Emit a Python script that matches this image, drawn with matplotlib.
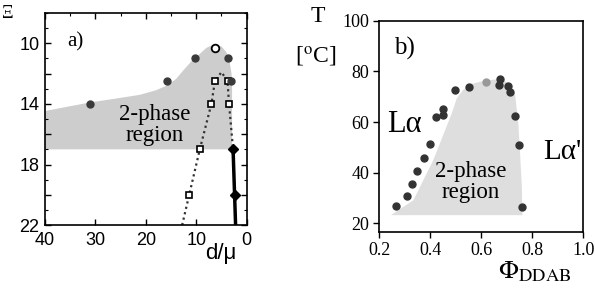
import matplotlib
matplotlib.use("Agg")
import matplotlib.pyplot as plt
import numpy as np

# ---- panel a) ----
circ_d = [31.0, 15.9, 10.3, 3.7, 3.2]
circ_xi = [14.0, 12.5, 11.0, 11.0, 12.5]
open_circ_d = [6.3]
open_circ_xi = [10.3]
sq_d = [11.4, 9.3, 7.0, 6.3, 3.8, 3.5]
sq_xi = [20.0, 17.0, 14.0, 12.5, 12.5, 14.0]
dot_d = [12.8, 11.4, 9.3, 7.0, 6.3, 5.0, 3.8, 3.5, 2.7]
dot_xi = [22.0, 20.0, 17.0, 14.0, 12.5, 11.9, 12.5, 14.0, 17.0]
dia_d = [2.7, 2.4]
dia_xi = [17.0, 20.0]
solid_d = [2.7, 2.4, 2.2]
solid_xi = [17.0, 20.0, 22.0]
# two-phase region outline (top edge, then down the right edge)
reg_a_d = [40, 35, 31, 26, 21.2, 18, 15.9, 14, 12.6, 11, 9.3, 8, 6.7, 5.0, 4.0, 3.4, 3.0, 2.9, 2.9, 40]
reg_a_xi = [14.47, 14.15, 13.9, 13.65, 13.4, 13.1, 12.8, 12.35, 11.8, 11.2, 10.7, 10.3, 10.1, 10.2, 10.6, 11.2, 12.0, 13.0, 17.0, 17.0]

# ---- panel b) ----
phi = [0.268, 0.309, 0.331, 0.348, 0.378, 0.398, 0.425, 0.45, 0.45, 0.498,
       0.552, 0.675, 0.671, 0.705, 0.712, 0.733, 0.749, 0.762]
temp = [26.7, 30.7, 35.7, 40.5, 45.6, 51.3, 62.0, 62.8, 65.0, 72.5,
        73.7, 77.0, 74.8, 74.3, 71.8, 62.6, 50.9, 26.3]
phi_crit = [0.62]
temp_crit = [76.0]
reg_b_phi = [0.247, 0.335, 0.413, 0.485, 0.505, 0.53, 0.56, 0.62, 0.68, 0.707,
             0.733, 0.746, 0.753, 0.76, 0.762]
reg_b_t = [23.2, 29.1, 45.0, 63.4, 69.4, 72.7, 75.0, 76.5, 77.0, 75.3,
           71.3, 59.5, 47.6, 34.4, 23.2]

SERIF = "Liberation Serif"
SANS = "Liberation Sans"
plt.rcParams["mathtext.fontset"] = "stix"

fig = plt.figure(figsize=(5.95, 3.03), dpi=100)

# panel a
ax1 = fig.add_axes([0.0756, 0.257, 0.339, 0.700])
ax1.fill(reg_a_d, reg_a_xi, color="#cdcdcd", lw=0, zorder=1)
ax1.plot(dot_d, dot_xi, ls=(0, (1, 1.5)), color="#333333", lw=1.6, zorder=2)
ax1.plot(solid_d, solid_xi, color="black", lw=2.5, zorder=2)
ax1.plot(sq_d, sq_xi, ls="none", marker="s", ms=5, mfc="white", mec="black", mew=1.2, zorder=3)
ax1.plot(dia_d, dia_xi, ls="none", marker="D", ms=5, color="black", zorder=3)
ax1.plot(circ_d, circ_xi, ls="none", marker="o", ms=5, color="#3a3a3a", zorder=3)
ax1.plot(open_circ_d, open_circ_xi, ls="none", marker="o", ms=5.5, mfc="white", mec="black", mew=1.3, zorder=3)
ax1.set_xlim(40, 0)
ax1.set_ylim(22, 8)
ax1.set_xticks([40, 30, 20, 10, 0])
ax1.set_xticks([35, 25, 15, 5], minor=True)
ax1.set_yticks([10, 12, 14, 16, 18, 20, 22])
ax1.set_yticklabels(["10", "", "14", "", "18", "", "22"])
ax1.set_yticks(np.arange(8, 22, 1), minor=True)
ax1.tick_params(which="major", direction="in", top=True, right=True, length=4, width=1,
                labelsize=13)
ax1.tick_params(axis="x", which="major", pad=5)
ax1.tick_params(axis="y", which="major", pad=4)
ax1.tick_params(which="minor", direction="in", top=True, right=True, bottom=False,
                length=2.5, width=0.8)
for lab in ax1.get_xticklabels() + ax1.get_yticklabels():
    lab.set_fontfamily(SANS)
for s in ax1.spines.values():
    s.set_linewidth(1.2)
ax1.text(34, 9.9, "a)", family=SERIF, fontsize=15, ha="center", va="center")
ax1.text(18.2, 15.4, "2-phase\nregion", family=SERIF, fontsize=16.5, ha="center",
         va="center", linespacing=1.0)
fig.text(8 / 595, 1 - 14 / 303, "Ξ", family=SERIF, fontsize=13, ha="center", va="center")
fig.text(221 / 595, 1 - 254 / 303, "d/μ", family=SANS, fontsize=16, ha="center", va="center")

# panel b
ax2 = fig.add_axes([0.637, 0.234, 0.343, 0.697])
ax2.fill(reg_b_phi, reg_b_t, color="#dedede", lw=0, zorder=1)
ax2.plot(phi, temp, ls="none", marker="o", ms=5, color="#333333", zorder=3)
ax2.plot(phi_crit, temp_crit, ls="none", marker="o", ms=5, color="#999999", zorder=3)
ax2.set_xlim(0.2, 1.0)
ax2.set_ylim(16.5, 100)
ax2.set_xticks([0.2, 0.4, 0.6, 0.8, 1.0])
ax2.set_xticklabels(["0.2", "0.4", "0.6", "0.8", "1.0"])
ax2.set_yticks([20, 40, 60, 80, 100])
ax2.tick_params(direction="out", length=4, width=1, labelsize=13, pad=3)
for lab in ax2.get_xticklabels() + ax2.get_yticklabels():
    lab.set_fontfamily(SERIF)
for s in ax2.spines.values():
    s.set_linewidth(1.2)
ax2.text(0.3, 89, "b)", family=SERIF, fontsize=18, ha="center", va="center")
ax2.text(0.3, 59, "Lα", family=SERIF, fontsize=22, ha="center", va="center")
ax2.text(0.92, 48, "Lα'", family=SERIF, fontsize=21, ha="center", va="center")
ax2.text(0.561, 36.5, "2-phase\nregion", family=SERIF, fontsize=16.5, ha="center",
         va="center", linespacing=1.0)
fig.text(318 / 595, 1 - 17 / 303, "T", family=SERIF, fontsize=17, ha="center", va="center")
fig.text(316 / 595, 1 - 57 / 303, r"[$^{\mathrm{o}}$C]", family=SERIF, fontsize=17,
         ha="center", va="center")
fig.text(535 / 595, 1 - 271 / 303, r"$\Phi_{\mathrm{DDAB}}$", fontsize=19,
         ha="center", va="center")

fig.savefig("out.png", dpi=100)
